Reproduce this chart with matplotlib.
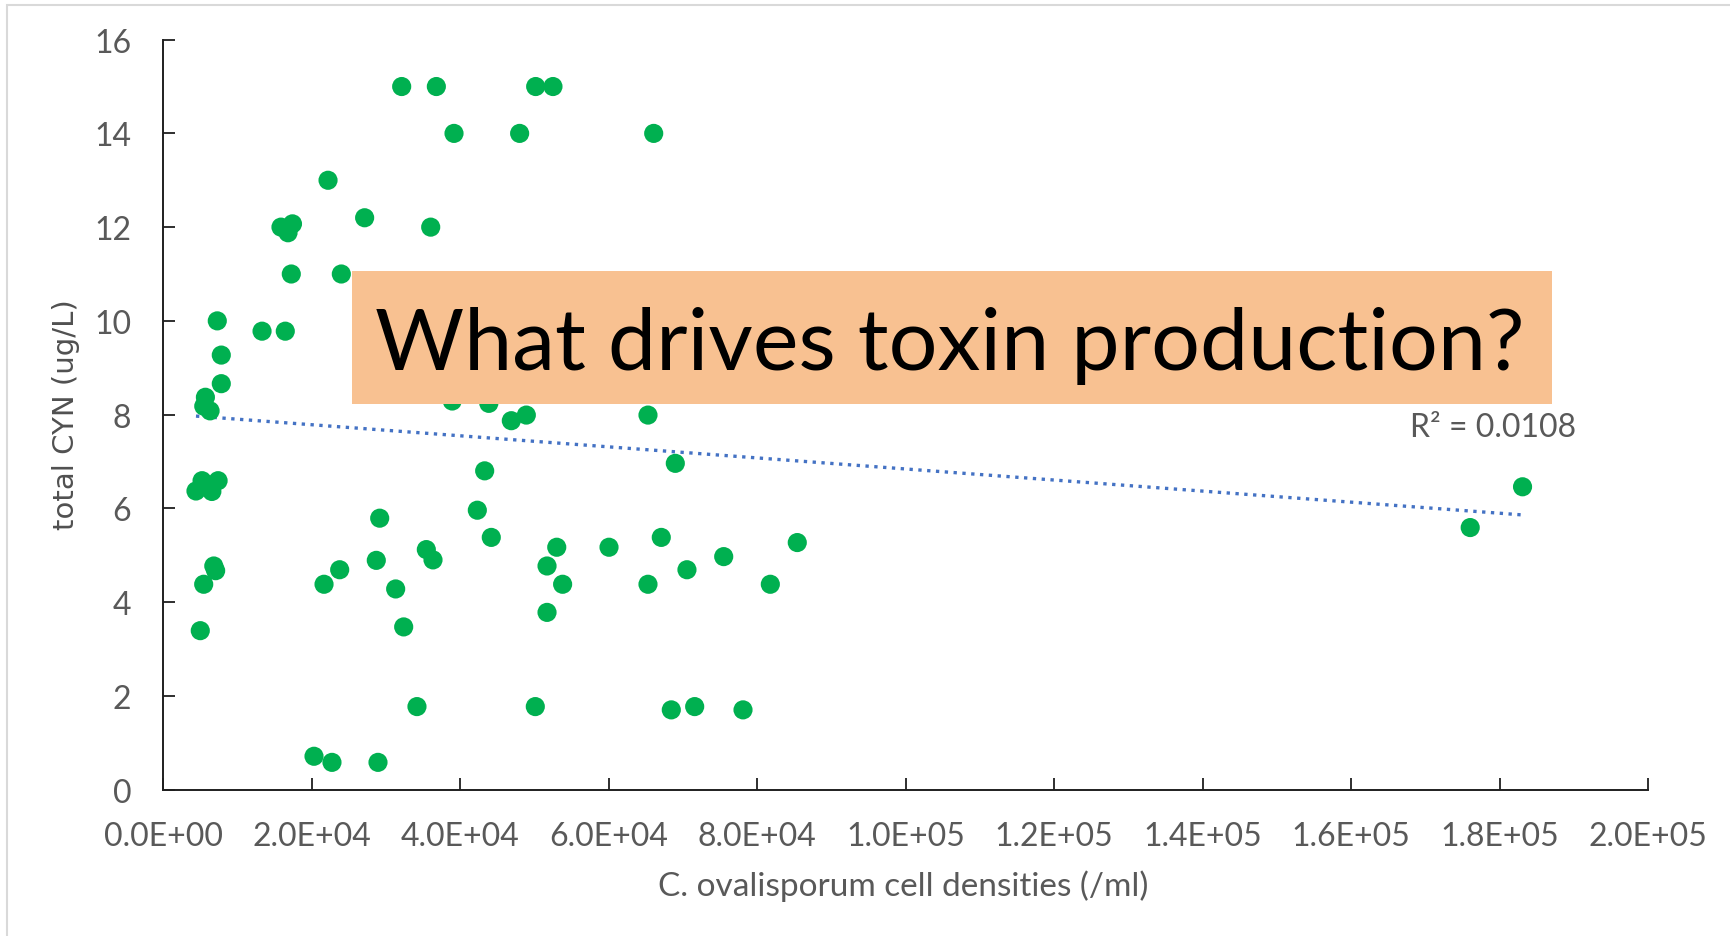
import matplotlib
matplotlib.use("Agg")
import matplotlib.pyplot as plt
from matplotlib.patches import Rectangle
from matplotlib.ticker import FuncFormatter, MultipleLocator
import numpy as np

plt.rcParams['font.family'] = ['Lato', 'DejaVu Sans']

# cell densities (/ml) and total CYN (ug/L)
cell_density = [
    32110, 36780, 50160, 52490, 39160, 48000, 66060, 22190, 27120, 36020,
    15850, 17400, 16800, 17240, 23980, 7270, 13300, 16430, 7810, 7810,
    5670, 5450, 6300, 38920, 43850, 46880, 48900, 65290, 68970, 5220,
    7380, 4400, 6540, 43290, 42300, 44180, 29150, 6800, 7050, 5440,
    21650, 23760, 28690, 31300, 35430, 36330, 53000, 51690, 53790, 51690,
    60040, 67080, 65290, 70540, 75490, 81770, 85400, 4980, 32380, 34170,
    50110, 20300, 22720, 28920, 68430, 71580, 78090, 183100, 176050,
]
total_cyn = [
    15.0, 15.0, 15.0, 15.0, 14.0, 14.0, 14.0, 13.0, 12.2, 12.0,
    12.0, 12.07, 11.88, 11.0, 11.0, 10.0, 9.78, 9.78, 9.27, 8.66,
    8.37, 8.18, 8.08, 8.29, 8.24, 7.87, 7.99, 7.99, 6.96, 6.59,
    6.59, 6.37, 6.36, 6.80, 5.96, 5.38, 5.79, 4.77, 4.67, 4.38,
    4.38, 4.69, 4.89, 4.28, 5.12, 4.90, 5.17, 4.77, 4.38, 3.78,
    5.17, 5.38, 4.38, 4.69, 4.97, 4.38, 5.27, 3.39, 3.47, 1.77,
    1.77, 0.71, 0.58, 0.58, 1.70, 1.77, 1.70, 6.46, 5.59,
]

# linear trendline
trend_slope = -1.18e-5
trend_intercept = 8.02
r_squared = 0.0108

title_text = "What drives toxin production?"
x_label = "C. ovalisporum cell densities (/ml)"
y_label = "total CYN (ug/L)"

grey = '#595959'
axis_col = '#1f1f1f'

fig = plt.figure(figsize=(17.3, 9.37), dpi=100)
ax = fig.add_axes([0.0944, 0.1563, 0.8582, 0.8003])

ax.scatter(cell_density, total_cyn, s=190, color='#00B050', edgecolors='none', zorder=3)

tx = np.array([min(cell_density), max(cell_density)])
ax.plot(tx, trend_intercept + trend_slope * tx, linestyle=':', color='#4472C4',
        linewidth=2.4, zorder=2)
ax.text(1.679e5, 7.55, f"R\u00b2 = {r_squared}", fontsize=23, color=grey,
        ha='left', va='baseline')

ax.set_xlim(0, 2e5)
ax.set_ylim(0, 16)
ax.xaxis.set_major_locator(MultipleLocator(2e4))
ax.yaxis.set_major_locator(MultipleLocator(2))
ax.xaxis.set_major_formatter(FuncFormatter(lambda v, p: f"{v:.1E}"))

for side in ['top', 'right']:
    ax.spines[side].set_visible(False)
for side in ['left', 'bottom']:
    ax.spines[side].set_color(axis_col)
    ax.spines[side].set_linewidth(1.4)

ax.tick_params(direction='in', length=8.5, width=1.3, color=axis_col,
               labelsize=23, labelcolor=grey)
ax.tick_params(axis='x', pad=23)
ax.tick_params(axis='y', pad=23)

fig.text(0.522, 0.0544, x_label, fontsize=24, color=grey, ha='center', va='center')
fig.text(0.0382, 0.557, y_label, fontsize=21, color='#505050', rotation=90,
         ha='center', va='center', family='DejaVu Sans')

# chart border
fig.add_artist(Rectangle((7.5 / 1730, -0.01), 1.02, 1.01 - 5.7 / 937,
                         transform=fig.transFigure, facecolor='none',
                         edgecolor='#D9D9D9', linewidth=1.5, zorder=0))

# headline box over the plot
fig.add_artist(Rectangle((0.2035, 0.5678), 0.6936, 0.1419,
                         transform=fig.transFigure, facecolor='#F8C191',
                         edgecolor='none', zorder=4))
fig.text(0.2168, 0.605, title_text, fontsize=62, color='black',
         ha='left', va='baseline', zorder=5)

fig.savefig('out.png', dpi=100)
